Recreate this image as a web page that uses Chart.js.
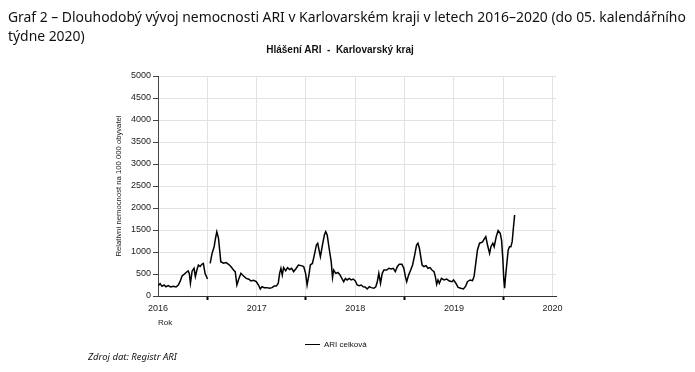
<!DOCTYPE html>
<html>
<head>
<meta charset="utf-8">
<script src="https://cdn.jsdelivr.net/npm/chart.js@4"></script>
<style>
  body { margin: 0; background: #fff; }
  #wrap { position: relative; width: 695px; height: 372px; font-family: "Liberation Sans", Arial, sans-serif; }
  #chart { position: absolute; left: 0; top: 0; }
  .head { position: absolute; left: 8px; top: 7px; font-family: "Noto Sans", sans-serif; font-size: 13.9px; line-height: 19px; color: #111; white-space: nowrap; }
  .title { position: absolute; left: 0; width: 680px; top: 44px; text-align: center; font-weight: bold; font-size: 10px; color: #111; }
  .legend { position: absolute; left: 305px; top: 340px; font-size: 8px; color: #111; }
  .legend span.ln { display: inline-block; width: 15px; height: 0; border-top: 1.5px solid #000; vertical-align: middle; margin-right: 4px; }
  .src { position: absolute; left: 88px; top: 350px; font-family: "Noto Sans", sans-serif; font-style: italic; font-size: 9.5px; color: #111; }
</style>
</head>
<body>
<div id="wrap">
  <canvas id="chart" width="695" height="372"></canvas>
  <div class="head">Graf 2 – Dlouhodobý vývoj nemocnosti ARI v Karlovarském kraji v letech 2016–2020 (do 05. kalendářního<br>týdne 2020)</div>
  <div class="title">Hlášení ARI &nbsp;- &nbsp;Karlovarský kraj</div>
  <div class="legend"><span class="ln"></span>ARI celková</div>
  <div class="src">Zdroj dat: Registr ARI</div>
</div>
<script>
// tydny od zacatku roku 2016, null = chybejici data
const weeks = [
  0.0, 1.1, 2.1, 3.2, 4.2, 5.4, 6.7, 8.1, 9.5, 10.7, 11.6, 12.7, 13.7, 14.8, 15.9, 16.5, 17.1, 18.0,
  19.0, 19.7, 20.5, 21.3, 22.2, 23.1, 23.9, 24.8, 26.1, 26.8,
  27.5, 28.5, 29.6, 30.3, 31.0, 31.9, 32.4, 33.1, 34.5, 35.9, 37.2, 38.4, 39.8, 40.7, 41.6, 42.4,
  43.7, 45.1, 46.5, 47.9, 49.0, 50.4, 51.8, 53.0, 53.9, 54.8, 56.0, 57.4, 58.8, 60.1, 61.3, 62.4,
  63.4, 64.1, 64.8, 65.5, 66.2, 67.3, 68.3, 69.4, 70.4, 71.5, 72.6, 74.0, 75.4, 76.8, 77.8, 78.6,
  79.6, 80.3, 81.4, 82.4, 83.5, 84.2, 84.9, 85.6, 86.7, 87.7, 88.4, 89.2, 90.2, 91.3, 92.0, 92.6,
  93.7, 94.8, 95.8, 96.9, 97.9, 98.8, 99.7, 100.8, 101.8, 102.9, 104.0, 105.0, 106.1, 107.1, 108.2,
  109.2, 110.3, 111.4, 112.4, 113.8, 114.8, 115.6, 116.4, 117.3, 118.2, 119.1, 120.5, 121.7, 123.0,
  124.0, 125.1, 126.2, 127.2, 128.6, 129.6, 130.4, 131.1, 132.1, 133.2, 134.2, 135.3, 136.3, 137.0,
  137.8, 138.5, 139.2, 140.2, 141.3, 142.3, 143.4, 144.4, 145.5, 146.2, 146.9, 147.6, 148.3, 149.4,
  150.8, 152.2, 153.6, 155.0, 155.8, 157.0, 158.2, 159.6, 161.0, 162.2, 163.1, 164.5, 165.8, 166.6,
  167.5, 168.4, 169.5, 170.5, 171.2, 171.9, 172.8, 173.7, 174.8, 175.5, 176.5, 177.2, 178.3, 179.3,
  180.4, 181.1, 181.8, 182.3, 182.7, 183.2, 183.9, 184.6, 185.3, 186.0, 186.7, 187.4, 188.0
];
const ariCelkova = [
  235, 280, 220, 250, 210, 235, 205, 220, 205, 250, 325, 455, 490, 535, 570, 515, 290, 570,
  630, 440, 590, 705, 670, 720, 740, 515, 385, null,
  740, 970, 1120, 1310, 1460, 1310, 1085, 780, 745, 760, 720, 670, 590, 555, 250, 365,
  515, 455, 400, 380, 340, 355, 325, 250, 160, 210, 190, 190, 175, 190, 225, 225,
  290, 515, 630, 475, 645, 570, 645, 600, 630, 555, 615, 705, 690, 670, 515, 250,
  490, 705, 740, 930, 1160, 1200, 1045, 895, 1160, 1385, 1460, 1385, 1085, 780, 420, 590,
  515, 535, 490, 400, 325, 400, 365, 400, 365, 385, 340, 250, 235, 250, 210,
  205, 160, 210, 190, 175, 210, 325, 515, 290, 515, 590, 590, 630, 615,
  630, 555, 670, 720, 720, 630, 440, 325, 475, 590, 705, 930, 1160, 1200,
  1085, 895, 705, 670, 690, 630, 645, 590, 555, 440, 265, 365, 290, 400,
  365, 385, 340, 325, 365, 290, 195, 175, 160, 225, 325, 365, 350, 440,
  740, 1045, 1200, 1215, 1235, 1290, 1350, 1160, 970, 1120, 1200, 1120, 1350, 1485,
  1425, 1270, 820, 365, 175, 440, 740, 1045, 1120, 1120, 1235, 1575, 1840
];
const firstYear = 2016;
const weeksPerYear = 52;
const yTicks = [0, 500, 1000, 1500, 2000, 2500, 3000, 3500, 4000, 4500, 5000];

const points = weeks.map((w, i) => ({ x: w, y: ariCelkova[i] }));

const ctx = document.getElementById('chart').getContext('2d');
new Chart(ctx, {
    type: 'line',
    data: {
        datasets: [{
            label: 'ARI celková',
            data: points,
            borderColor: '#000',
            borderWidth: 1.5,
            pointRadius: 0,
            tension: 0,
            spanGaps: false
        }]
    },
    options: {
        responsive: false,
        animation: false,
        layout: { padding: { left: 110, top: 76, right: 139, bottom: 40 } },
        plugins: { legend: { display: false }, tooltip: { enabled: false } },
        scales: {
            x: {
                type: 'linear',
                min: 0,
                max: 209.8,
                afterBuildTicks: scale => {
                    const t = [];
                    for (let v = 0; v <= 208; v += weeksPerYear / 2) t.push({ value: v });
                    scale.ticks = t;
                },
                afterFit: scale => { scale.height = 36; },
                border: { color: '#333', width: 1 },
                grid: {
                    color: '#e2e2e2',
                    tickLength: 4,
                    tickColor: c => (c.tick && c.tick.value % weeksPerYear === 0) ? 'rgba(0,0,0,0)' : '#000',
                    tickWidth: 2
                },
                ticks: {
                    autoSkip: false,
                    maxRotation: 0,
                    padding: 3,
                    color: '#222',
                    font: { family: 'Liberation Sans', size: 9 },
                    callback: v => v % weeksPerYear === 0 ? String(firstYear + v / weeksPerYear) : ''
                },
                title: {
                    display: true,
                    text: 'Rok',
                    align: 'start',
                    color: '#222',
                    font: { family: 'Liberation Sans', size: 8 },
                    padding: { top: 2, bottom: 4 }
                }
            },
            y: {
                min: 0,
                max: 5000,
                afterBuildTicks: scale => { scale.ticks = yTicks.map(v => ({ value: v })); },
                afterFit: scale => { scale.width = 48; },
                border: { color: '#444', width: 1 },
                grid: { color: '#e2e2e2', tickLength: 5, tickColor: '#444' },
                ticks: {
                    padding: 2,
                    color: '#222',
                    font: { family: 'Liberation Sans', size: 9 },
                    callback: v => String(v)
                },
                title: {
                    display: true,
                    text: 'Relativní nemocnost na 100 000 obyvatel',
                    color: '#222',
                    font: { family: 'Liberation Sans', size: 7.7 },
                    padding: { top: 4, bottom: 4 }
                }
            }
        }
    }
});
</script>
</body>
</html>
